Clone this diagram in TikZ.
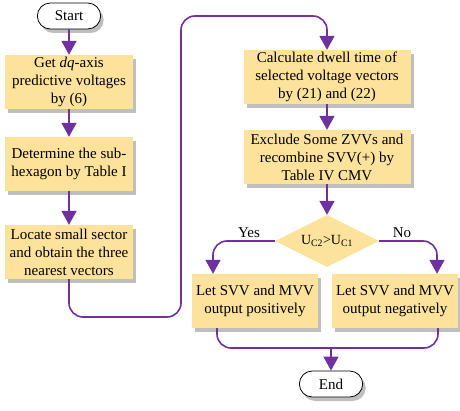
\documentclass[tikz,border=0pt]{standalone}
\usepackage{fontspec}
\setmainfont{Liberation Serif}
\usetikzlibrary{shapes.geometric,shapes.misc,shadows,arrows.meta}

\definecolor{boxfill}{RGB}{253,226,155}
\definecolor{flowline}{RGB}{112,48,160}

\tikzset{
  box/.style={rectangle, fill=boxfill, minimum width=128pt, minimum height=54pt,
    align=center, inner sep=2pt, font=\fontsize{15}{18}\selectfont,
    drop shadow={shadow xshift=3pt, shadow yshift=-4pt, opacity=0.5}},
  term/.style={rounded rectangle, draw=black, thick, fill=white, minimum width=70pt,
    minimum height=26pt, font=\fontsize{15}{18}\selectfont,
    drop shadow={shadow xshift=3pt, shadow yshift=-4pt, opacity=0.5}},
  decision/.style={diamond, fill=boxfill, minimum width=104pt, minimum height=52pt,
    aspect=2, inner sep=0pt, font=\fontsize{14}{16}\selectfont},
  line/.style={draw=flowline, line width=1.6pt, rounded corners=14pt},
  flow/.style={line, -{Triangle[width=15pt,length=14pt]}},
}

\begin{document}
\begin{tikzpicture}[x=1pt, y=-1pt]
  \useasboundingbox (0,0) rectangle (460,411);

  % Left column
  \node[term] (start) at (69,16) {Start};
  \node[box] (getv) at (69,82) {Get \textit{dq}-axis\\predictive voltages\\by (6)};
  \node[box] (hexa) at (69,164) {Determine the sub-\\hexagon by Table I};
  \node[box] (locate) at (69,252) {Locate small sector\\and obtain the three\\nearest vectors};

  % Right column
  \node[box, minimum width=167pt] (dwell) at (327,77) {Calculate dwell time of\\selected voltage vectors\\by (21) and (22)};
  \node[box, minimum width=167pt] (excl) at (327,157) {Exclude Some ZVVs and\\recombine SVV(+) by\\Table IV CMV};
  \node[decision] (cmp) at (327,241) {U\textsubscript{C2}>U\textsubscript{C1}};
  \node[box, minimum width=126pt] (pos) at (255,301) {Let SVV and MVV\\output positively};
  \node[box, minimum width=126pt] (neg) at (395,301) {Let SVV and MVV\\output negatively};
  \node[term] (end) at (331,384) {End};

  % Connectors
  \draw[flow] (start) -- (getv);
  \draw[flow] (getv) -- (hexa);
  \draw[flow] (hexa) -- (locate);
  \draw[flow] (locate.south) |- (181,317) -- (181,16) -| (dwell.north);
  \draw[flow] (dwell) -- (excl);
  \draw[flow] (excl) -- (cmp);
  \draw[flow] (cmp.west) -| ([xshift=-42pt]pos.north);
  \draw[flow] (cmp.east) -| ([xshift=42pt]neg.north);
  \node[font=\fontsize{15}{18}\selectfont] (yes) at (249,233) {Yes};
  \node[font=\fontsize{15}{18}\selectfont] (no) at (402,233) {No};

  % Merge
  \coordinate (merge) at (331,348);
  \draw[line] ([xshift=-38pt]pos.south) |- (merge) -| ([xshift=43pt]neg.south);
  \draw[flow] (merge) -- (end);
\end{tikzpicture}
\end{document}
